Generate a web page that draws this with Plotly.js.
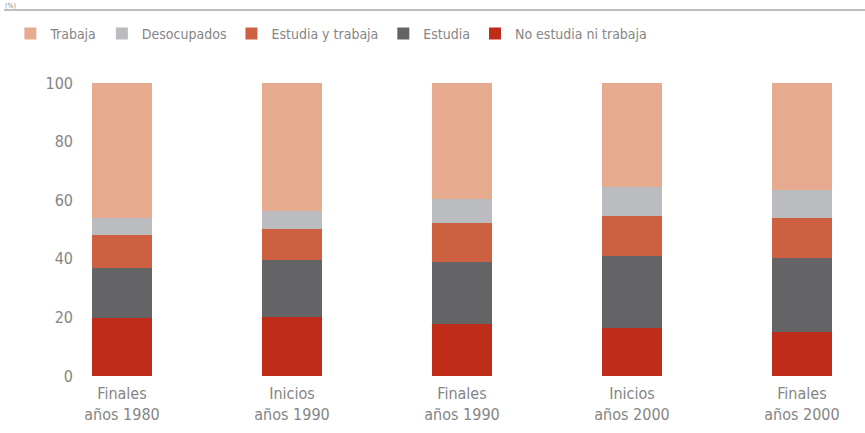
<!DOCTYPE html>
<html>
<head>
<meta charset="utf-8">
<script src="https://cdn.plot.ly/plotly-3.0.1.min.js"></script>
<style>html,body{margin:0;padding:0;background:#fff;}#chart{width:865px;height:433px;}</style>
</head>
<body>
<div id="chart"></div>
<script>
const categories = ["Finales<br>años 1980", "Inicios<br>años 1990", "Finales<br>años 1990", "Inicios<br>años 2000", "Finales<br>años 2000"];
const noEstudiaNiTrabaja = [19.7, 20.0, 17.7, 16.4, 15.0];
const estudia = [17.1, 19.5, 21.2, 24.5, 25.3];
const estudiaYTrabaja = [11.2, 10.6, 13.3, 13.7, 13.6];
const desocupados = [5.8, 6.2, 8.2, 9.9, 9.6];
const trabaja = [46.2, 43.7, 39.6, 35.5, 36.5];
const yTicks = [0, 20, 40, 60, 80, 100];

const FONT = "'Liberation Sans Narrow', 'DejaVu Sans Condensed', sans-serif";
const W = 0.353;
function bar(name, y, color, legendrank) {
  return {type: 'bar', name: name, x: categories, y: y, width: W,
          marker: {color: color, line: {width: 0}}, legendrank: legendrank};
}
const data = [
  bar('No estudia ni trabaja', noEstudiaNiTrabaja, '#BF2D1A', 5),
  bar('Estudia', estudia, '#646466', 4),
  bar('Estudia y trabaja', estudiaYTrabaja, '#CC6040', 3),
  bar('Desocupados', desocupados, '#BBBCBF', 2),
  bar('Trabaja', trabaja, '#E6AA8F', 1)
];
const layout = {
  width: 865, height: 433,
  margin: {l: 80, r: 10, t: 83, b: 57},
  paper_bgcolor: '#fff', plot_bgcolor: '#fff',
  barmode: 'stack',
  font: {family: FONT, color: '#858585', size: 16},
  showlegend: true,
  legend: {orientation: 'h', traceorder: 'normal', xref: 'container', yref: 'container',
           x: 0.012, y: 1 - 18/433, xanchor: 'left', yanchor: 'top', itemgap: 2,
           font: {family: FONT, size: 14, color: '#858585'}, itemclick: false, bgcolor: 'rgba(0,0,0,0)'},
  xaxis: {type: 'category', range: [-0.247, 4.312], showgrid: false, zeroline: false,
          showline: false, ticks: '', ticklabelstandoff: 6,
          tickfont: {family: FONT, size: 16, color: '#858585'}},
  yaxis: {range: [0, 100], tickvals: yTicks, showgrid: false, zeroline: false, showline: false,
          ticks: '', tickfont: {family: FONT, size: 16, color: '#858585'}, ticklabelstandoff: 6},
  shapes: [{type: 'line', xref: 'paper', yref: 'paper', x0: -0.098, x1: 1.013,
            y0: 1 + 73/293, y1: 1 + 73/293, line: {color: '#A8A8A8', width: 1.5}}],
  annotations: [{text: '(%)', xref: 'paper', yref: 'paper', x: (4-80)/775, y: 1 + 82/293,
                 xanchor: 'left', yanchor: 'top', showarrow: false, borderpad: 0,
                 font: {family: FONT, size: 7, color: '#858585'}}]
};
Plotly.newPlot('chart', data, layout, {displayModeBar: false, staticPlot: true});
</script>
</body>
</html>
